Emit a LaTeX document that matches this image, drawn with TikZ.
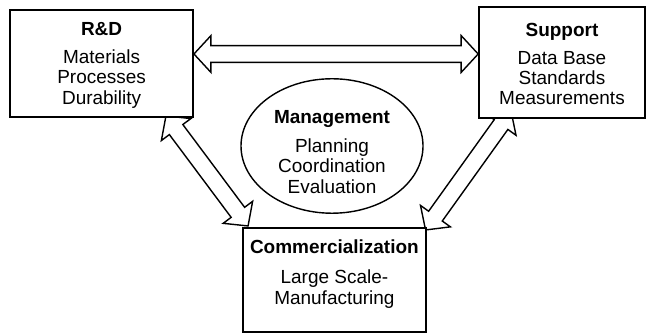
\documentclass[tikz,border=0pt]{standalone}
\usepackage{fontspec}
\setmainfont{Liberation Sans}
\usetikzlibrary{calc,shapes.geometric,backgrounds}

% size of the hollow double arrows
\newcommand{\headlen}{0.425cm}
\newcommand{\headwid}{0.46cm}
\newcommand{\shaftwid}{0.21cm}

% hollow double-headed arrow between two points
\newcommand{\fatarrow}[2]{%
  \draw[fatline] (#1)
    -- ($(#1)!\headlen!(#2)!\headwid!90:(#2)$)
    -- ($(#1)!\headlen!(#2)!\shaftwid!90:(#2)$)
    -- ($(#2)!\headlen!(#1)!\shaftwid!-90:(#1)$)
    -- ($(#2)!\headlen!(#1)!\headwid!-90:(#1)$)
    -- (#2)
    -- ($(#2)!\headlen!(#1)!\headwid!90:(#1)$)
    -- ($(#2)!\headlen!(#1)!\shaftwid!90:(#1)$)
    -- ($(#1)!\headlen!(#2)!\shaftwid!-90:(#2)$)
    -- ($(#1)!\headlen!(#2)!\headwid!-90:(#2)$)
    -- cycle;}

\tikzset{
  unit/.style={draw, line width=1.2pt, fill=white, align=center,
    inner sep=2pt, font=\fontsize{13.5}{14.5}\selectfont},
  fatline/.style={draw, line width=1pt, fill=white, line join=miter},
}

\begin{document}
\begin{tikzpicture}
  \useasboundingbox (0,0) rectangle (16.225,8.35);

  % the three units and the management in the middle
  \node[unit, minimum width=4.575cm, minimum height=2.675cm] (rd) at (2.54,6.76)
    {\rule{0pt}{12pt}\textbf{R\&D}\\[5pt]Materials\\Processes\\Durability};
  \node[unit, minimum width=4.15cm, minimum height=2.775cm] (sup) at (14.05,6.79)
    {\rule{0pt}{12pt}\textbf{Support}\\[5pt]Data Base\\Standards\\Measurements};
  \node[unit, minimum width=4.575cm, minimum height=2.6cm] (com) at (8.36,1.35)
    {\textbf{Commercialization}\\[7pt]Large Scale-\\Manufacturing\\[-3pt]\mbox{}};
  \node[unit, ellipse, line width=1pt, minimum width=4.55cm, minimum height=3.2cm,
    inner sep=0pt] (mgt) at (8.3,4.7)
    {\rule{0pt}{18pt}\textbf{Management}\\[6pt]Planning\\Coordination\\Evaluation};

  % arrow ends, tucked under the boxes
  \coordinate (rdR) at ([yshift=0.24cm]rd.east);
  \coordinate (supL) at (rdR -| sup.west);
  \coordinate (rdB) at ($(rd.south east)+(-0.7,0.05)$);
  \coordinate (comL) at ($(com.north west)+(0.15,0.03)$);
  \coordinate (supB) at ($(sup.south west)+(0.82,0.2)$);
  \coordinate (comR) at ($(com.north east)+(-0.03,-0.07)$);

  \begin{pgfonlayer}{background}
    \fatarrow{rdR}{supL}
    \fatarrow{rdB}{comL}
    \fatarrow{supB}{comR}
  \end{pgfonlayer}
\end{tikzpicture}
\end{document}
